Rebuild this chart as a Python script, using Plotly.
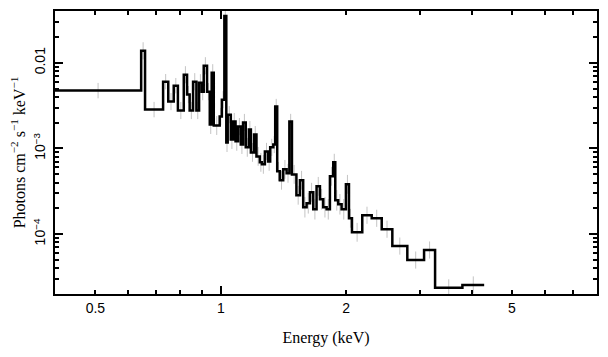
import numpy as np
import plotly.graph_objects as go

# Bin edges (keV)
energy_edges = [0.400, 0.644, 0.658, 0.727, 0.748, 0.771, 0.789, 0.815, 0.830, 0.842,
                0.858, 0.874, 0.887, 0.900, 0.910, 0.927, 0.941, 0.951, 0.962, 0.994,
                1.006, 1.020, 1.031, 1.039, 1.057, 1.070, 1.085, 1.100, 1.117, 1.131,
                1.148, 1.168, 1.181, 1.202, 1.218, 1.241, 1.255, 1.276, 1.299, 1.314,
                1.337, 1.351, 1.366, 1.386, 1.412, 1.439, 1.461, 1.482, 1.519, 1.549,
                1.577, 1.607, 1.637, 1.667, 1.698, 1.730, 1.762, 1.795, 1.828, 1.862,
                1.883, 1.914, 1.950, 1.997, 2.031, 2.065, 2.186, 2.303, 2.434, 2.581,
                2.804, 3.076, 3.269, 3.802, 4.288]

# Flux density per bin (photons cm^-2 s^-1 keV^-1)
flux = [0.00473, 0.01379, 0.00284, 0.00601, 0.00352, 0.00540, 0.00277, 0.00725, 0.00425, 0.00277,
        0.00601, 0.00277, 0.00585, 0.00460, 0.00923, 0.00460, 0.00190, 0.00765, 0.00185, 0.00236,
        0.00371, 0.0352, 0.00117, 0.00248, 0.00127, 0.00206, 0.00121, 0.00180, 0.00111, 0.00201,
        0.00103, 0.00166, 0.000899, 0.00145, 0.000807, 0.000688, 0.000652, 0.000923, 0.000706, 0.00103,
        0.00111, 0.00308, 0.000540, 0.000425, 0.000570, 0.000512, 0.00206, 0.000498, 0.000284, 0.000425,
        0.000206, 0.000229, 0.000308, 0.000195, 0.000361, 0.000255, 0.000206, 0.000195, 0.000473, 0.000688,
        0.000248, 0.000223, 0.000195, 0.000381, 0.000153, 0.000105, 0.000166, 0.000153, 0.000114, 7.25e-5,
        4.98e-5, 6.52e-5, 2.36e-5, 2.55e-5]

# Error bar half-size per bin, in decades
err_dex = [0.09, 0.10, 0.09, 0.09, 0.10, 0.09, 0.10, 0.10, 0.10, 0.10,
           0.10, 0.10, 0.10, 0.10, 0.10, 0.10, 0.11, 0.10, 0.11, 0.10,
           0.10, 0.08, 0.11, 0.10, 0.11, 0.10, 0.11, 0.10, 0.11, 0.10,
           0.11, 0.10, 0.11, 0.10, 0.11, 0.11, 0.11, 0.10, 0.11, 0.10,
           0.10, 0.09, 0.11, 0.11, 0.11, 0.11, 0.09, 0.11, 0.11, 0.11,
           0.12, 0.12, 0.11, 0.12, 0.11, 0.12, 0.12, 0.12, 0.11, 0.10,
           0.12, 0.12, 0.12, 0.11, 0.11, 0.11, 0.10, 0.10, 0.10, 0.10,
           0.10, 0.10, 0.10, 0.10]

x_tick_vals = [0.5, 1, 2, 5]
x_tick_text = ["0.5", "1", "2", "5"]
y_tick_vals = [1e-2, 1e-3, 1e-4]
y_tick_text = ["0.01", "10<sup>−3</sup>", "10<sup>−4</sup>"]

edges = np.array(energy_edges)
vals = np.array(flux)
dex = np.array(err_dex)
centers = np.sqrt(edges[:-1] * edges[1:])
err_plus = vals * (10 ** dex - 1)
err_minus = vals * (1 - 10 ** (-dex))

fig = go.Figure()
fig.add_trace(go.Scatter(
    x=centers, y=vals, mode="markers",
    marker=dict(size=0.1, color="rgba(0,0,0,0)"),
    error_y=dict(type="data", symmetric=False, array=err_plus, arrayminus=err_minus,
                 color="#c4c4c4", thickness=1, width=0),
    hoverinfo="skip", showlegend=False))
fig.add_trace(go.Scatter(
    x=list(edges), y=list(vals) + [vals[-1]], mode="lines",
    line=dict(shape="hv", color="black", width=2.5), showlegend=False))
# invisible trace to anchor the overlay axes
fig.add_trace(go.Scatter(x=[1], y=[1e-3], xaxis="x2", yaxis="y2", mode="markers",
                         marker=dict(color="rgba(0,0,0,0)"), hoverinfo="skip", showlegend=False))

xr = [np.log10(0.4), np.log10(8.0)]
yr = [np.log10(2.0e-5), np.log10(0.0402)]
tickfont = dict(family="Liberation Sans, Arial, sans-serif", size=14, color="black")
titlefont = dict(family="Liberation Serif, Times New Roman, serif", size=16, color="black")

x_minor = [0.4, 0.6, 0.7, 0.8, 0.9, 3, 4, 6, 7, 8]
y_minor = [m * 10.0 ** e for e in (-5, -4, -3, -2) for m in range(2, 10)]

fig.update_layout(
    width=600, height=349,
    margin=dict(l=47, r=11, t=3, b=63),
    paper_bgcolor="white", plot_bgcolor="white",
    xaxis=dict(type="log", range=xr, showgrid=False, zeroline=False, automargin=False,
               showline=True, linecolor="black", linewidth=2, mirror="allticks",
               ticks="inside", ticklen=4, tickwidth=1.5, tickcolor="black",
               tickmode="array", tickvals=x_tick_vals, ticktext=x_tick_text,
               tickfont=tickfont, ticklabelstandoff=0,
               minor=dict(tickmode="array", tickvals=x_minor, ticks="inside",
                          ticklen=4, tickwidth=1.5, tickcolor="black", showgrid=False),
               title=dict(text="Energy (keV)", font=titlefont, standoff=17)),
    yaxis=dict(type="log", range=yr, showgrid=False, zeroline=False, automargin=False,
               showline=True, linecolor="black", linewidth=2, mirror="allticks",
               ticks="inside", ticklen=8, tickwidth=1.5, tickcolor="black",
               tickmode="array", tickvals=y_tick_vals, ticktext=y_tick_text,
               tickangle=-90, tickfont=tickfont, ticklabelstandoff=2,
               minor=dict(tickmode="array", tickvals=y_minor, ticks="inside",
                          ticklen=4, tickwidth=1.5, tickcolor="black", showgrid=False),
               title=dict(text="Photons cm<sup>−2</sup> s<sup>−1</sup> keV<sup>−1</sup>",
                          font=dict(family="Liberation Serif, Times New Roman, serif", size=16, color="black"),
                          standoff=3)),
    xaxis2=dict(type="log", range=xr, overlaying="x", side="bottom", anchor="y",
                showgrid=False, zeroline=False, showline=False, mirror="allticks",
                automargin=False,
                ticks="inside", ticklen=8, tickwidth=1.5, tickcolor="black",
                tickmode="array", tickvals=[1], showticklabels=False),
    yaxis2=dict(type="log", range=yr, overlaying="y", side="left", anchor="x",
                showgrid=False, zeroline=False, showline=False, showticklabels=False,
                automargin=False, ticks=""),
)

fig.write_html("out.html")
